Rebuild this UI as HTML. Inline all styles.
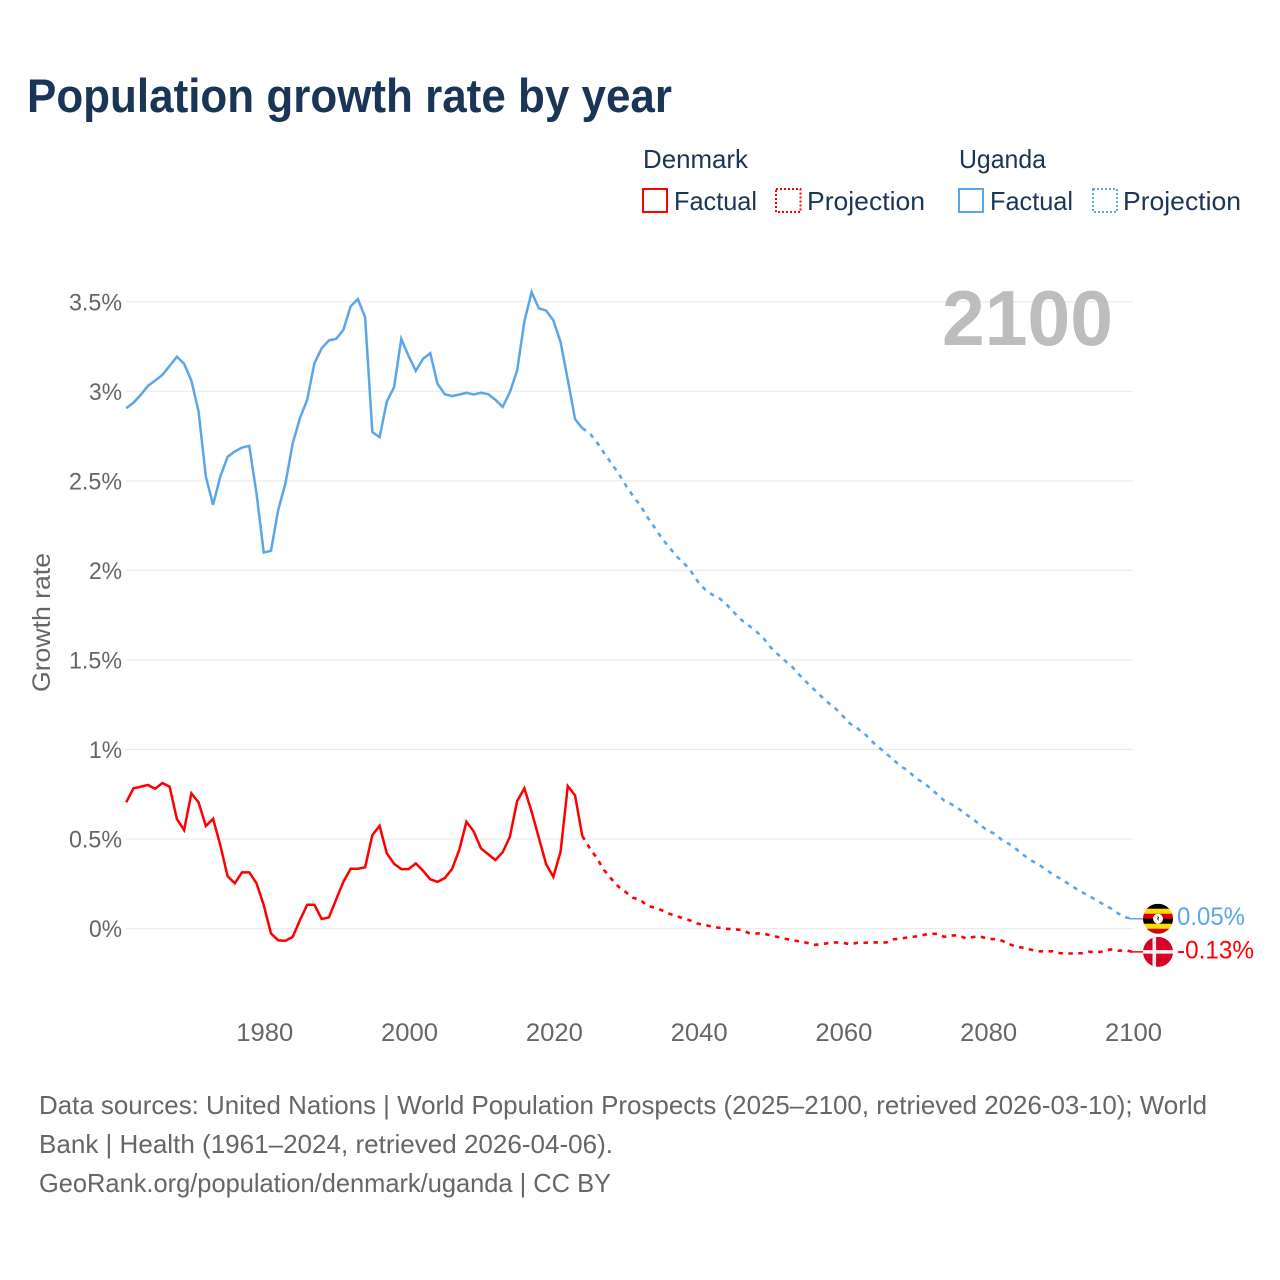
<!DOCTYPE html>
<html lang="en">
<head>
<meta charset="utf-8">
<title>Population growth rate by year</title>
<style>
html,body{margin:0;padding:0;background:#fff;}
svg{display:block;font-family:"Liberation Sans",sans-serif;}
</style>
</head>
<body>
<svg id="chart" xmlns="http://www.w3.org/2000/svg" width="1280" height="1280" viewBox="0 0 1280 1280">
  <rect x="0" y="0" width="1280" height="1280" fill="#fff"/>
  <text x="27" y="112" font-size="47" font-weight="700" fill="#1b3556" textLength="645" lengthAdjust="spacingAndGlyphs">Population growth rate by year</text>

  <g font-size="26" fill="#1b3556">
    <text x="643" y="168" textLength="105" lengthAdjust="spacingAndGlyphs">Denmark</text>
    <rect x="643" y="189" width="24" height="23" fill="none" stroke="#f00" stroke-width="2"/>
    <text x="674" y="210" textLength="83" lengthAdjust="spacingAndGlyphs">Factual</text>
    <rect x="776" y="189" width="24.5" height="23" fill="none" stroke="#f00" stroke-width="2" stroke-dasharray="2 2"/>
    <text x="807" y="210" textLength="118" lengthAdjust="spacingAndGlyphs">Projection</text>
    <text x="959" y="168" textLength="87" lengthAdjust="spacingAndGlyphs">Uganda</text>
    <rect x="959" y="189" width="24" height="23" fill="none" stroke="#5ba5eb" stroke-width="2"/>
    <text x="990" y="210" textLength="83" lengthAdjust="spacingAndGlyphs">Factual</text>
    <rect x="1093" y="189" width="24" height="23" fill="none" stroke="#5ba5eb" stroke-width="2" stroke-dasharray="2 2"/>
    <text x="1123" y="210" textLength="118" lengthAdjust="spacingAndGlyphs">Projection</text>
  </g>

  <g id="grid"></g>
  <g id="yticks"></g>
  <g id="xticks"></g>

  <text transform="translate(50 622.5) rotate(-90)" text-anchor="middle" font-size="25" fill="#666" textLength="139" lengthAdjust="spacingAndGlyphs">Growth rate</text>

  <text x="1113" y="345" text-anchor="end" font-size="78" font-weight="700" fill="#bdbdbd" textLength="171" lengthAdjust="spacingAndGlyphs">2100</text>

  <g id="series"></g>

  <defs>
    <clipPath id="flag-clip-uganda"><circle id="clip-u" cx="1158" cy="918" r="15"/></clipPath>
    <clipPath id="flag-clip-denmark"><circle id="clip-d" cx="1158" cy="952" r="15"/></clipPath>
  </defs>
  <g id="flag-uganda" clip-path="url(#flag-clip-uganda)"></g>
  <g id="flag-denmark" clip-path="url(#flag-clip-denmark)"></g>
  <g id="end-labels"></g>

  <g font-size="26" fill="#666">
    <text x="39" y="1114" textLength="1168" lengthAdjust="spacingAndGlyphs">Data sources: United Nations | World Population Prospects (2025–2100, retrieved 2026-03-10); World</text>
    <text x="39" y="1153" textLength="574" lengthAdjust="spacingAndGlyphs">Bank | Health (1961–2024, retrieved 2026-04-06).</text>
    <text x="39" y="1192" textLength="572" lengthAdjust="spacingAndGlyphs">GeoRank.org/population/denmark/uganda | CC BY</text>
  </g>
</svg>

<script>
const firstFactualYear = 1961;
const firstProjectionYear = 2025;
const xTickYears = [1980, 2000, 2020, 2040, 2060, 2080, 2100];
const yTickValues = [0, 0.5, 1, 1.5, 2, 2.5, 3, 3.5];
const yTickLabels = ['0%', '0.5%', '1%', '1.5%', '2%', '2.5%', '3%', '3.5%'];
const endLabelUganda = '0.05%';
const endLabelDenmark = '-0.13%';

const ugandaFactual = [
  2.906,2.936,2.98,3.03,3.06,3.092,3.142,3.193,3.154,3.06,
  2.887,2.524,2.366,2.524,2.634,2.664,2.686,2.695,2.43,2.10,
  2.11,2.338,2.487,2.71,2.85,2.953,3.157,3.24,3.284,3.293,
  3.343,3.474,3.515,3.414,2.772,2.744,2.943,3.023,3.293,3.198,
  3.114,3.181,3.213,3.042,2.984,2.973,2.982,2.992,2.982,2.992,
  2.984,2.953,2.913,2.995,3.116,3.39,3.554,3.463,3.451,3.396,
  3.275,3.064,2.845,2.794
];
const ugandaProjection = [
  2.767,2.716,2.656,2.599,2.541,2.476,2.415,2.364,2.297,2.239,
  2.178,2.130,2.079,2.042,1.996,1.936,1.891,1.863,1.842,1.807,
  1.763,1.723,1.692,1.660,1.623,1.571,1.532,1.496,1.461,1.416,
  1.375,1.336,1.297,1.260,1.228,1.186,1.144,1.118,1.088,1.046,
  1.010,0.977,0.941,0.906,0.882,0.842,0.817,0.787,0.751,0.714,
  0.694,0.669,0.638,0.610,0.578,0.546,0.530,0.493,0.472,0.442,
  0.409,0.381,0.359,0.331,0.303,0.280,0.254,0.228,0.204,0.182,
  0.159,0.135,0.113,0.085,0.063,0.055
];
const denmarkFactual = [
  0.705,0.783,0.792,0.802,0.781,0.813,0.792,0.612,0.550,0.755,
  0.705,0.573,0.613,0.466,0.293,0.253,0.314,0.314,0.253,0.131,
  -0.027,-0.066,-0.068,-0.046,0.047,0.133,0.133,0.053,0.063,0.163,
  0.261,0.334,0.334,0.342,0.522,0.574,0.420,0.362,0.332,0.332,
  0.364,0.323,0.275,0.261,0.282,0.332,0.439,0.597,0.543,0.448,
  0.415,0.383,0.426,0.513,0.712,0.783,0.653,0.507,0.360,0.289,
  0.429,0.796,0.744,0.517
];
const denmarkProjection = [
  0.451,0.394,0.327,0.278,0.234,0.204,0.172,0.161,0.126,0.118,
  0.102,0.083,0.070,0.057,0.044,0.027,0.020,0.010,0.004,-0.001,
  -0.004,-0.007,-0.025,-0.027,-0.027,-0.038,-0.047,-0.057,-0.064,-0.072,
  -0.079,-0.091,-0.087,-0.081,-0.077,-0.079,-0.088,-0.079,-0.079,-0.077,
  -0.077,-0.077,-0.060,-0.055,-0.049,-0.044,-0.036,-0.029,-0.029,-0.046,
  -0.038,-0.038,-0.055,-0.047,-0.044,-0.057,-0.059,-0.068,-0.087,-0.102,
  -0.107,-0.118,-0.127,-0.127,-0.127,-0.137,-0.139,-0.139,-0.137,-0.129,
  -0.133,-0.127,-0.116,-0.124,-0.120,-0.130
];

const SVGNS = 'http://www.w3.org/2000/svg';
function xScale(year) { return 126.2 + (year - 1961) * 7.2395; }
function yScale(value) { return 928.6 - value * 179.1; }
function make(tag, attrs, parent) {
  const el = document.createElementNS(SVGNS, tag);
  for (const k in attrs) el.setAttribute(k, attrs[k]);
  parent.appendChild(el);
  return el;
}
function pathFrom(startYear, values, prefixYear, prefixValue) {
  const pts = [];
  if (prefixYear !== undefined) pts.push([xScale(prefixYear), yScale(prefixValue)]);
  values.forEach(function (v, i) { pts.push([xScale(startYear + i), yScale(v)]); });
  return pts.map(function (p, i) { return (i ? 'L' : 'M') + p[0].toFixed(2) + ' ' + p[1].toFixed(2); }).join(' ');
}

const gridG = document.getElementById('grid');
const yG = document.getElementById('yticks');
yTickValues.forEach(function (v, i) {
  const line = make('line', { x1: 126, x2: 1133, y1: yScale(v), y2: yScale(v), stroke: '#ebebeb', 'stroke-width': 1.2 }, gridG);
  
  
  const label = yTickLabels[i];
  const t = make('text', { x: 122, y: yScale(v) + 8.5, 'text-anchor': 'end', 'font-size': 24, fill: '#666', textLength: label.length > 2 ? 53 : 33, lengthAdjust: 'spacingAndGlyphs' }, yG);
  
  
  t.textContent = label;
});

const xG = document.getElementById('xticks');
xTickYears.forEach(function (yr) {
  const t = make('text', { x: xScale(yr) + 1, y: 1041, 'text-anchor': 'middle', 'font-size': 25, fill: '#666', textLength: 57, lengthAdjust: 'spacingAndGlyphs' }, xG);
  
  
  t.textContent = String(yr);
});

const seriesG = document.getElementById('series');
const RED = '#ff0000';
const BLUE = '#5ba5eb';
const lastUg = ugandaFactual[ugandaFactual.length - 1];
const lastDk = denmarkFactual[denmarkFactual.length - 1];

const ugFact = make('path', { d: pathFrom(firstFactualYear, ugandaFactual), fill: 'none', stroke: BLUE, 'stroke-width': 2.5, 'stroke-linejoin': 'miter' }, seriesG);



const ugProj = make('path', { d: pathFrom(firstProjectionYear, ugandaProjection, firstProjectionYear - 1, lastUg), fill: 'none', stroke: BLUE, 'stroke-width': 2.6, 'stroke-dasharray': '4.5 5.5' }, seriesG);



const dkFact = make('path', { d: pathFrom(firstFactualYear, denmarkFactual), fill: 'none', stroke: RED, 'stroke-width': 2.5, 'stroke-linejoin': 'miter' }, seriesG);



const dkProj = make('path', { d: pathFrom(firstProjectionYear, denmarkProjection, firstProjectionYear - 1, lastDk), fill: 'none', stroke: RED, 'stroke-width': 2.6, 'stroke-dasharray': '4.5 5.5' }, seriesG);



const endYear = firstProjectionYear + ugandaProjection.length - 1;
const endX = xScale(endYear);
const flagX = 1158;
const ugEndY = yScale(ugandaProjection[ugandaProjection.length - 1]);
const dkEndY = yScale(denmarkProjection[denmarkProjection.length - 1]);

const ugLead = make('line', { x1: endX - 3, x2: flagX, y1: ugEndY, y2: ugEndY, stroke: BLUE, 'stroke-width': 1.5 }, seriesG);


const dkLead = make('line', { x1: endX - 3, x2: flagX, y1: dkEndY, y2: dkEndY, stroke: RED, 'stroke-width': 1.5 }, seriesG);



document.getElementById('clip-u').setAttribute('cy', ugEndY);
document.getElementById('clip-d').setAttribute('cy', dkEndY);

const uf = document.getElementById('flag-uganda');
['#000000', '#fcdc04', '#d90000', '#000000', '#fcdc04', '#d90000'].forEach(function (c, i) {
  make('rect', { x: flagX - 15, y: ugEndY - 15 + i * 5, width: 30, height: 5.2, fill: c }, uf);
});
make('circle', { cx: flagX, cy: ugEndY, r: 5, fill: '#fff' }, uf);
make('path', { d: 'M' + (flagX - 0.5) + ' ' + (ugEndY - 3.5) + 'l1.5 2.5l-0.8 1l1 2.5l-2.2 -2.5l0.8 -1z', fill: '#000' }, uf);

const df = document.getElementById('flag-denmark');
make('rect', { x: flagX - 15, y: dkEndY - 15, width: 30, height: 30, fill: '#d80027' }, df);
make('rect', { x: flagX - 5.5, y: dkEndY - 15, width: 3.6, height: 30, fill: '#f0f0f0' }, df);
make('rect', { x: flagX - 15, y: dkEndY - 1.8, width: 30, height: 3.6, fill: '#f0f0f0' }, df);

const labelsG = document.getElementById('end-labels');
const ugLabel = make('text', { x: 1177, y: ugEndY + 6.5, 'font-size': 25, fill: BLUE, textLength: 68, lengthAdjust: 'spacingAndGlyphs' }, labelsG);


ugLabel.textContent = endLabelUganda;
const dkLabel = make('text', { x: 1177, y: dkEndY + 6.5, 'font-size': 25, fill: RED, textLength: 77, lengthAdjust: 'spacingAndGlyphs' }, labelsG);


dkLabel.textContent = endLabelDenmark;
</script>
</body>
</html>
